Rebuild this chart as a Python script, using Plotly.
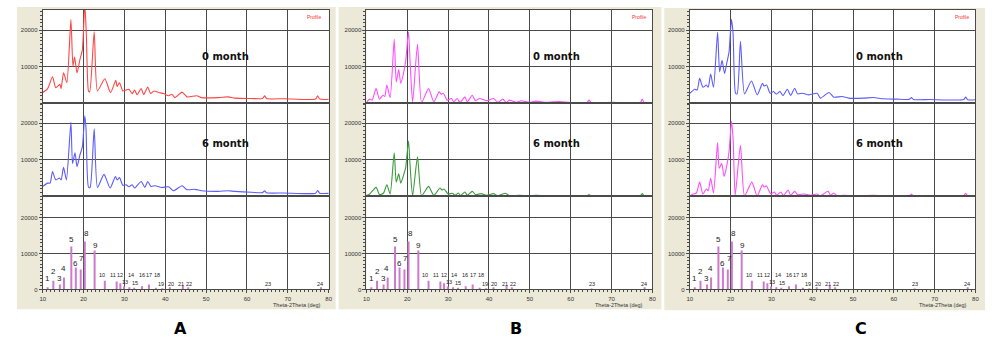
import plotly.graph_objects as go

# ---------------- data (2-theta in deg, intensity in counts) ----------------
a0_x = [10.0, 11.2, 12.4, 13.2, 14.2, 14.5, 15.1, 15.9, 16.9, 17.4, 17.8, 18.4, 19.1, 19.7, 20.3, 20.7, 21.2, 21.5,
        22.6, 23.4, 25.2, 26.6, 27.9, 28.2, 28.8, 29.6, 30.4, 31.1, 31.9, 32.5, 33.1, 34.1, 34.7, 35.7, 36.4, 37.2,
        38.4, 39.6, 40.8, 41.6, 42.4, 44.1, 45.3, 47.7, 48.9, 53.0, 55.4, 57.0, 61.1, 63.8, 64.3, 64.8, 69.2,
        76.8, 77.3, 77.8, 80.0]
a0_y = [2880, 3960, 7200, 4230, 5130, 3960, 8280, 5580, 22860, 10080, 12600, 8280, 11880, 14580, 27000, 18180, 3330, 3060,
        19530, 3330, 6660, 2880, 6210, 4500, 5580, 3330, 3600, 3800, 2600, 3600, 2300, 4000, 2300, 4400, 2600, 3300,
        2900, 2600, 2000, 2400, 1500, 3000, 1700, 2000, 1500, 1500, 1700, 1350, 1250, 1250, 2000, 1250, 1200,
        1100, 2000, 1100, 1050]

a6_x = [10.0, 11.2, 11.8, 12.4, 13.2, 14.1, 14.5, 15.1, 15.8, 16.9, 17.3, 17.9, 18.4, 19.1, 19.7, 20.3, 20.6, 21.2, 21.6,
        22.6, 23.4, 25.0, 26.5, 27.8, 28.2, 28.8, 29.6, 30.4, 31.1, 31.9, 32.5, 34.1, 35.0, 35.7, 36.5, 37.5, 39.1,
        40.8, 42.0, 44.1, 45.3, 47.3, 48.9, 53.0, 55.4, 57.0, 61.1, 63.8, 64.3, 64.8, 69.2, 76.8, 77.3, 77.8, 80.0]
a6_y = [2700, 3600, 3600, 6750, 4500, 5000, 4500, 7900, 4500, 20250, 9000, 11900, 8100, 11300, 13500, 22050, 18450, 2500, 2400,
        18450, 2400, 6000, 2250, 5400, 4500, 5100, 3000, 3150, 2600, 3150, 2250, 4050, 2400, 4050, 2700, 2900, 2400,
        2600, 1500, 2900, 1800, 1900, 1500, 1350, 1500, 1350, 1100, 1000, 1500, 950, 900, 850, 1600, 850, 800]

b0_x = [10.0, 10.8, 11.4, 12.35, 13.2, 14.05, 14.5, 15.0, 15.8, 16.8, 17.3, 17.9, 18.4, 19.1, 19.6, 20.3, 20.7, 21.3,
        22.5, 23.5, 25.2, 26.5, 27.8, 28.3, 28.8, 29.8, 30.8, 31.4, 32.2, 32.9, 34.1, 34.7, 35.9, 36.7, 37.7, 39.4,
        41.1, 42.2, 43.4, 44.2, 45.0, 46.7, 47.9, 49.9, 51.5, 54.0, 57.2, 59.6, 64.0, 64.5, 65.0, 70.2,
        77.0, 77.5, 78.0, 80.0]
b0_y = [180, 1080, 810, 3960, 1080, 2160, 1800, 4950, 1530, 17460, 5760, 9180, 5400, 8280, 11430, 19530, 10980, 180,
        16110, 180, 3960, 360, 3060, 2430, 2700, 810, 1260, 360, 1260, 180, 1710, 360, 2160, 630, 1260, 630,
        1260, 180, 1080, 180, 810, 180, 630, 180, 540, 180, 450, 180, 150, 810, 120, 180,
        120, 1080, 90, 90]

b6_x = [10.0, 10.8, 12.35, 13.2, 14.2, 15.0, 15.8, 16.8, 17.3, 17.9, 18.4, 19.1, 19.6, 20.3, 20.7, 21.3, 22.5, 23.5,
        25.2, 26.5, 28.0, 28.5, 29.0, 30.0, 31.0, 31.7, 32.5, 33.0, 34.1, 34.7, 35.9, 36.7, 38.1, 39.4, 41.1, 42.2,
        44.0, 45.0, 47.4, 49.9, 51.5, 54.0, 57.2, 59.6, 64.0, 64.5, 65.0, 70.2, 77.0, 77.5, 78.0, 80.0]
b6_y = [180, 630, 2430, 450, 900, 3150, 630, 11880, 3870, 6120, 3600, 5850, 7830, 15120, 8100, 180, 10800, 180,
        2700, 270, 2250, 1710, 1980, 630, 810, 270, 900, 180, 1170, 270, 1350, 450, 720, 270, 720, 180,
        810, 180, 270, 90, 270, 90, 180, 90, 90, 450, 90, 90, 90, 720, 90, 90]

c0_x = [10.0, 11.2, 11.8, 12.4, 13.2, 14.05, 14.5, 15.1, 15.8, 16.8, 17.3, 17.9, 18.5, 19.1, 19.6, 20.2, 20.6, 21.2, 21.6,
        22.4, 23.4, 25.1, 26.5, 27.8, 28.2, 28.8, 29.7, 30.5, 31.2, 32.1, 32.8, 33.9, 34.7, 35.7, 36.4, 37.6, 39.2,
        41.2, 42.0, 44.1, 45.3, 47.3, 48.9, 52.6, 55.0, 57.4, 60.7, 63.8, 64.3, 64.8, 68.8, 77.1, 77.6, 78.1, 80.0]
c0_y = [2700, 3780, 3600, 6750, 4320, 4950, 4320, 7920, 4320, 19350, 8550, 11700, 8100, 11250, 13950, 22950, 18900, 2700, 2520,
        16920, 2520, 6030, 2250, 5400, 4680, 4950, 2700, 3150, 2430, 3150, 2070, 3780, 2070, 4050, 2520, 2700, 2250,
        2700, 1350, 2880, 1620, 1800, 1350, 1350, 1530, 1170, 1080, 1050, 1530, 1000, 990, 950, 1620, 900, 900]

c6_x = [10.0, 10.8, 11.6, 12.4, 13.2, 14.05, 14.5, 15.1, 15.8, 16.8, 17.2, 17.8, 18.4, 19.0, 19.6, 20.2, 20.6, 21.1,
        22.4, 23.4, 25.2, 26.5, 27.8, 28.2, 28.7, 29.9, 30.7, 31.3, 32.3, 32.9, 34.1, 34.7, 35.7, 36.4, 38.0, 39.6,
        41.2, 41.9, 43.9, 44.5, 45.3, 46.1, 47.7, 50.1, 54.9, 58.9, 63.8, 64.3, 64.8, 68.8, 77.1, 77.6, 78.1, 80.0]
c6_y = [90, 630, 900, 3870, 630, 1980, 1530, 4950, 900, 14670, 7650, 9000, 5400, 8100, 12150, 20520, 15750, 180,
        13950, 90, 3870, 90, 3150, 2520, 2880, 630, 1170, 270, 1170, 180, 1710, 270, 1350, 450, 630, 270,
        630, 90, 1350, 270, 900, 90, 270, 90, 270, 90, 90, 630, 60, 90, 90, 810, 90, 30]

# reference stick pattern (peak position, relative intensity, peak number)
stick_x = [11.2, 12.6, 14.2, 15.2, 17.0, 18.1, 19.3, 20.3, 22.7, 25.2, 28.1, 29.0, 29.9, 31.2, 32.4, 34.3, 36.0, 37.7,
           39.3, 41.1, 44.3, 45.6, 65.1, 78.1]
stick_h = [640, 2450, 1360, 3360, 12000, 6100, 5600, 13400, 10900, 2450, 2200, 1700, 820, 640, 450, 900, 1360, 450,
           360, 640, 1090, 640, 270, 640]
stick_labels = [str(i) for i in range(1, 25)]

panel_names = ["A", "B", "C"]
month_labels = ["0 month", "6 month"]
x_ticks = [10, 20, 30, 40, 50, 60, 70, 80]
y_ticks = [0, 10000, 20000]

# ---------------- layout helpers (positions / styles) ----------------
label_pos_x = [11.2, 12.7, 14.1, 15.0, 17.1, 18.1, 19.6, 20.7, 22.8, 24.4, 27.1, 29.0, 30.1, 31.5, 32.5, 34.2, 36.0,
               38.0, 39.0, 41.3, 43.9, 45.9, 65.1, 77.9]
label_pos_y = [3090, 4900, 3090, 5800, 14000, 7360, 8550, 15550, 12200, 4000, 4000, 4000, 2100, 4000, 1900, 4000, 4000,
               4000, 1640, 1640, 1640, 1640, 1550, 1550]

panel_dom = [(0.0400, 0.3280), (0.3660, 0.6540), (0.6917, 0.9793)]
row_dom = [(0.6977, 0.9709), (0.4244, 0.6977), (0.1512, 0.4244)]
beige = [(0.014, 0.335, 0.093, 0.9797), (0.338, 0.663, 0.093, 0.9797), (0.666, 0.989, 0.090, 0.9767)]
month_x = [0.224, 0.557, 0.883]
month_y = [0.8343, 0.5785]
profile_x = [0.313, 0.640, 0.966]
axis_title_x = [0.322, 0.647, 0.973]
letter_x = [0.179, 0.517, 0.864]

profiles = [
    [(a0_x, a0_y, "#ff4545"), (a6_x, a6_y, "#5c5cff")],
    [(b0_x, b0_y, "#ff4dff"), (b6_x, b6_y, "#3c9c3c")],
    [(c0_x, c0_y, "#5c5cff"), (c6_x, c6_y, "#ff4dff")],
]

GRID = "#4a4a4a"
STICK = "#cc7acc"
FONT = "Liberation Sans, Arial, sans-serif"

fig = go.Figure()
shapes = []
annotations = []
layout_axes = {}


def tick_text(v):
    return str(int(v))


for p in range(3):
    bx0, bx1, by0, by1 = beige[p]
    shapes.append(dict(type="rect", xref="paper", yref="paper", x0=bx0, x1=bx1, y0=by0, y1=by1,
                       fillcolor="#ece9d8", line=dict(width=0), layer="below"))
    shapes.append(dict(type="rect", xref="paper", yref="paper", x0=panel_dom[p][0], x1=panel_dom[p][1],
                       y0=row_dom[2][0], y1=row_dom[0][1], fillcolor="white", line=dict(width=0), layer="below"))
    for r in range(3):
        k = p * 3 + r + 1
        xn = "x" if k == 1 else f"x{k}"
        yn = "y" if k == 1 else f"y{k}"
        xa = "xaxis" if k == 1 else f"xaxis{k}"
        ya = "yaxis" if k == 1 else f"yaxis{k}"
        bottom = (r == 2)
        xax = dict(
            domain=list(panel_dom[p]), anchor=yn, range=[10, 80], tickvals=x_ticks,
            ticktext=[tick_text(v) for v in x_ticks],
            showticklabels=bottom, showgrid=True, gridcolor=GRID, gridwidth=1,
            showline=True, linecolor=GRID, linewidth=1, mirror=True, zeroline=False,
            ticks="outside" if bottom else "", ticklen=3, tickcolor=GRID,
            tickfont=dict(size=6, color="#333", family=FONT),
        )
        if bottom:
            xax["minor"] = dict(dtick=1, ticks="outside", ticklen=2, tickcolor=GRID, showgrid=False)
        layout_axes[xa] = xax
        yr = [0, 26000] if bottom else [0, 25500]
        yt = y_ticks if bottom else y_ticks[1:]
        layout_axes[ya] = dict(
            domain=list(row_dom[r]), anchor=xn, range=yr,
            tickvals=yt, ticktext=[tick_text(v) for v in yt],
            showgrid=True, gridcolor=GRID, gridwidth=1,
            showline=True, linecolor=GRID, linewidth=1, mirror=True, zeroline=False,
            ticks="outside", ticklen=3, tickcolor=GRID,
            tickfont=dict(size=6, color="#333", family=FONT),
            minor=dict(dtick=1000, ticks="outside", ticklen=2, tickcolor=GRID, showgrid=False),
        )
        if r < 2:
            xs, ys, col = profiles[p][r]
            fig.add_trace(go.Scatter(x=xs, y=ys, mode="lines", xaxis=xn, yaxis=yn,
                                     line=dict(color=col, width=1.1, shape="spline", smoothing=0.6),
                                     showlegend=False, hoverinfo="skip"))
            annotations.append(dict(xref="paper", yref="paper", x=month_x[p], y=month_y[r],
                                    xanchor="center", yanchor="middle", text=f"<b>{month_labels[r]}</b>",
                                    showarrow=False,
                                    font=dict(size=10, color="#111", family="DejaVu Sans")))
        else:
            sx, sy = [], []
            for xv, hv in zip(stick_x, stick_h):
                sx += [xv, xv, None]
                sy += [0, hv, None]
            fig.add_trace(go.Scatter(x=sx, y=sy, mode="lines", xaxis=xn, yaxis=yn,
                                     line=dict(color=STICK, width=2), showlegend=False, hoverinfo="skip"))
            for i, lab in enumerate(stick_labels):
                annotations.append(dict(xref=xn, yref=yn, x=label_pos_x[i], y=label_pos_y[i], text=lab,
                                        showarrow=False, xanchor="center", yanchor="middle",
                                        font=dict(size=8 if i < 9 else 5.5, color="#222", family=FONT)))
    annotations.append(dict(xref="paper", yref="paper", x=profile_x[p], y=0.9506, text="Profile",
                            xanchor="center", yanchor="middle",
                            showarrow=False, font=dict(size=5, color="#ff3030", family=FONT)))
    annotations.append(dict(xref="paper", yref="paper", x=axis_title_x[p], y=0.1055, xanchor="right",
                            yanchor="middle", text="Theta-2Theta (deg)", showarrow=False,
                            font=dict(size=5.5, color="#333", family=FONT)))
    annotations.append(dict(xref="paper", yref="paper", x=letter_x[p], y=0.038, text=f"<b>{panel_names[p]}</b>",
                            xanchor="center", yanchor="middle",
                            showarrow=False, font=dict(size=16, color="black", family="DejaVu Sans")))

fig.update_layout(
    width=1000, height=344, margin=dict(l=0, r=0, t=0, b=0),
    paper_bgcolor="white", plot_bgcolor="rgba(0,0,0,0)",
    shapes=shapes, annotations=annotations, showlegend=False,
    **layout_axes,
)

fig.write_html("out.html")
